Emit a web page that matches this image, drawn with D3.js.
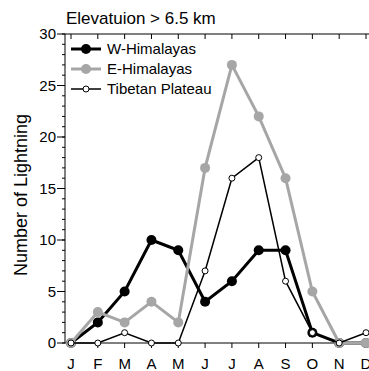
<!DOCTYPE html>
<html>
<head>
<meta charset="utf-8">
<script src="https://cdn.jsdelivr.net/npm/d3@7"></script>
<style>
  body { margin: 0; background: #fff; }
  svg { display: block; font-family: "Liberation Sans", Arial, sans-serif; }
</style>
</head>
<body>
<svg id="chart" width="369" height="371"></svg>
<script>
const months = ['J', 'F', 'M', 'A', 'M', 'J', 'J', 'A', 'S', 'O', 'N', 'D'];
const wHimalayas = [0, 2, 5, 10, 9, 4, 6, 9, 9, 1, 0, 0];
const eHimalayas = [0, 3, 2, 4, 2, 17, 27, 22, 16, 5, 0, 0];
const tibetanPlateau = [0, 0, 1, 0, 0, 7, 16, 18, 6, 1, 0, 1];
const yMajorTicks = [0, 5, 10, 15, 20, 25, 30];

const svg = d3.select('#chart');
const axisLeft = 65;
const x = d3.scaleLinear().domain([0, 11]).range([71, 366]);
const y = d3.scaleLinear().domain([0, 30]).range([343, 34]);

// title
svg.append('text')
  .attr('x', 66).attr('y', 24)
  .style('font-size', '17px')
  .text('Elevatuion > 6.5 km');

// y label
svg.append('text')
  .attr('transform', `translate(27,195) rotate(-90)`)
  .attr('text-anchor', 'middle')
  .style('font-size', '18px')
  .text('Number of Lightning');

// frame lines
svg.append('line').attr('x1', axisLeft).attr('x2', axisLeft)
  .attr('y1', y(30)).attr('y2', y(0)).attr('stroke', '#000');
svg.append('line').attr('x1', axisLeft).attr('x2', 369)
  .attr('y1', y(30)).attr('y2', y(30)).attr('stroke', '#000');
svg.append('line').attr('x1', axisLeft).attr('x2', 369)
  .attr('y1', y(0)).attr('y2', y(0)).attr('stroke', '#000');

// left ticks
svg.selectAll('.minor').data(d3.range(0, 31))
  .enter().append('line')
  .attr('x1', axisLeft - 3).attr('x2', axisLeft)
  .attr('y1', d => y(d)).attr('y2', d => y(d))
  .attr('stroke', '#000');
svg.selectAll('.major').data(yMajorTicks)
  .enter().append('line')
  .attr('x1', axisLeft - 8).attr('x2', axisLeft)
  .attr('y1', d => y(d)).attr('y2', d => y(d))
  .attr('stroke', '#000');
svg.selectAll('.ylab').data(yMajorTicks)
  .enter().append('text')
  .attr('x', axisLeft - 9).attr('y', d => y(d) + 5)
  .attr('text-anchor', 'end')
  .style('font-size', '15px')
  .text(d => d);

// x ticks top and bottom
svg.selectAll('.xtop').data(months)
  .enter().append('line')
  .attr('x1', (d, i) => x(i)).attr('x2', (d, i) => x(i))
  .attr('y1', y(30)).attr('y2', y(30) + 5)
  .attr('stroke', '#000');
svg.selectAll('.xbot').data(months)
  .enter().append('line')
  .attr('x1', (d, i) => x(i)).attr('x2', (d, i) => x(i))
  .attr('y1', y(0)).attr('y2', y(0) + 5)
  .attr('stroke', '#000');
svg.selectAll('.xlab').data(months)
  .enter().append('text')
  .attr('x', (d, i) => x(i)).attr('y', 369)
  .attr('text-anchor', 'middle')
  .style('font-size', '15px')
  .text(d => d);

const line = d3.line().x((d, i) => x(i)).y(d => y(d));

const series = [
  { name: 'W-Himalayas', values: wHimalayas, color: '#000', width: 3, r: 5, fill: '#000', mstroke: 'none' },
  { name: 'E-Himalayas', values: eHimalayas, color: '#a6a6a6', width: 3, r: 5, fill: '#a6a6a6', mstroke: 'none' },
  { name: 'Tibetan Plateau', values: tibetanPlateau, color: '#000', width: 1.5, r: 3, fill: '#fff', mstroke: '#000' }
];

series.forEach(s => {
  svg.append('path')
    .datum(s.values)
    .attr('d', line)
    .attr('fill', 'none')
    .attr('stroke', s.color)
    .attr('stroke-width', s.width);
  svg.selectAll(null).data(s.values)
    .enter().append('circle')
    .attr('cx', (d, i) => x(i)).attr('cy', d => y(d))
    .attr('r', s.r)
    .attr('fill', s.fill)
    .attr('stroke', s.mstroke)
    .attr('stroke-width', 1);
});

// legend
const legend = svg.append('g').attr('transform', 'translate(71,49)');
series.forEach((s, i) => {
  const g = legend.append('g').attr('transform', `translate(0,${i * 20})`);
  g.append('line').attr('x1', 0).attr('x2', 30)
    .attr('stroke', s.color).attr('stroke-width', s.width);
  g.append('circle').attr('cx', 15).attr('r', s.r)
    .attr('fill', s.fill).attr('stroke', s.mstroke).attr('stroke-width', 1);
  g.append('text').attr('x', 36).attr('y', 5)
    .style('font-size', '15px')
    .text(s.name);
});
</script>
</body>
</html>
